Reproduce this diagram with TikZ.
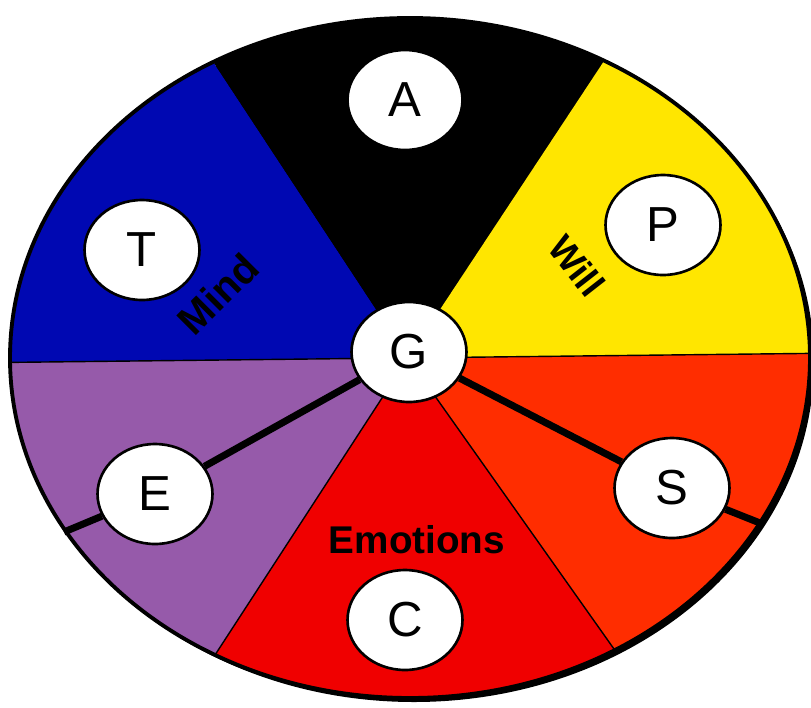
\documentclass[tikz,border=0pt]{standalone}
\usepackage{fontspec}
\setmainfont{Liberation Sans}
\usetikzlibrary{shapes.geometric}
\tikzset{every picture/.style={line width=0.75pt}}

\definecolor{mindblue}{RGB}{0,8,178}
\definecolor{willyellow}{RGB}{255,230,0}
\definecolor{bodyorange}{RGB}{255,45,0}
\definecolor{emored}{RGB}{240,0,0}
\definecolor{spiritpurple}{RGB}{150,90,170}

\begin{document}
\begin{tikzpicture}[x=0.02cm,y=-0.02cm,
    disc/.style={ellipse,draw=black,line width=1.5pt,fill=white,
      minimum width=2.3cm,minimum height=2cm,inner sep=0pt,
      font=\fontsize{28}{32}\selectfont},
    spoke/.style={line width=4pt},
    divider/.style={line width=0.8pt},
    wordlabel/.style={font=\fontsize{22}{26}\selectfont\bfseries,inner sep=0pt}]
    % Page
    \fill[white] (0,0) rectangle (811,707);
    \useasboundingbox (0,0) rectangle (811,707);

    % Hub and far points of the sector rays
    \coordinate (o) at (408,358);
    \coordinate (left) at (-400,367);
    \coordinate (right) at (1200,349);
    \coordinate (ul) at (-186,-545);
    \coordinate (ur) at (1008,-551);
    \coordinate (lr) at (1026,1231);
    \coordinate (ll) at (-171,1249);

    % Shadow of the rim
    \fill[black] (414,362) ellipse (400 and 340);

    % Coloured sectors
    \begin{scope}
      \clip (410,358) ellipse (400 and 340);
      \fill[mindblue] (o) -- (left) -- (ul) -- cycle;
      \fill[black] (o) -- (ul) -- (ur) -- cycle;
      \fill[willyellow] (o) -- (ur) -- (right) -- cycle;
      \fill[bodyorange] (o) -- (right) -- (lr) -- cycle;
      \fill[emored] (o) -- (lr) -- (ll) -- cycle;
      \fill[spiritpurple] (o) -- (ll) -- (left) -- cycle;
      \draw[divider] (left) -- (right);
      \draw[divider] (o) -- (lr);
      \draw[divider] (o) -- (ll);
    \end{scope}
    \draw[line width=2.2pt] (410,358) ellipse (400 and 340);

    % Sector words
    \node[wordlabel,rotate=45,font=\fontsize{23}{27}\selectfont\bfseries] (mind) at (218,294) {Mind};
    \node[wordlabel,rotate=-52,font=\fontsize{21}{25}\selectfont\bfseries] (will) at (577,266) {Will};
    \node[wordlabel] (emotions) at (417,540) {Emotions};

    % Letter discs
    \node[disc] (A) at (405,100) {A};
    \node[disc] (T) at (142,250) {T};
    \node[disc] (P) at (663,225) {P};
    \node[disc] (G) at (409,352) {G};
    \node[disc] (S) at (672,488) {S};
    \node[disc] (E) at (155,494) {E};
    \node[disc] (C) at (405,620) {C};

    % Spokes from the hub out to the rim
    \coordinate (eRim) at (64,532);
    \coordinate (sRim) at (760,523);
    \draw[spoke] (G) -- (E);
    \draw[spoke] (E) -- (eRim);
    \draw[spoke] (G) -- (S);
    \draw[spoke] (S) -- (sRim);
\end{tikzpicture}
\end{document}
